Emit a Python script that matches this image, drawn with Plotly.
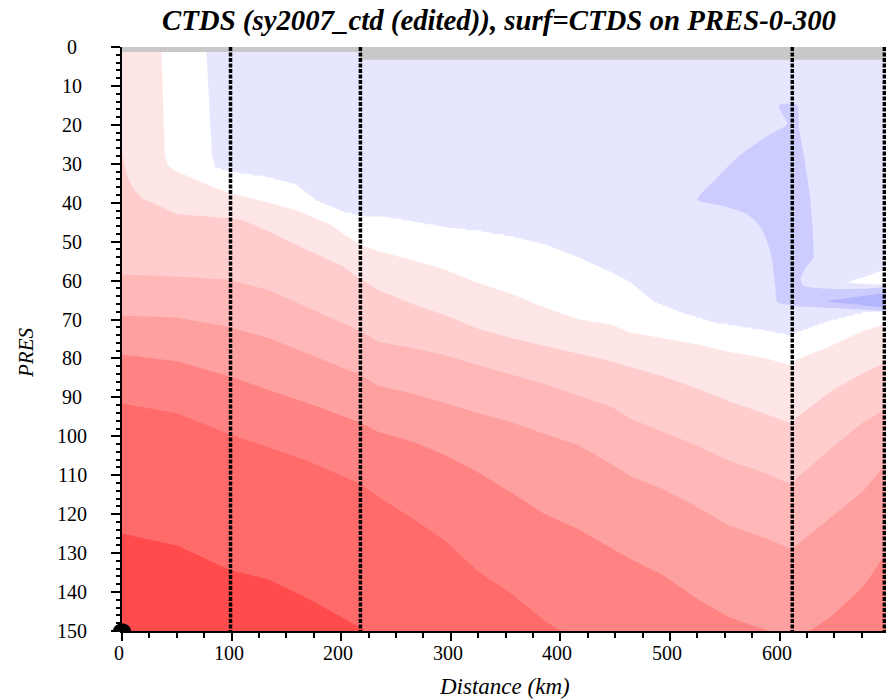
import numpy as np
import plotly.graph_objects as go

# ---------------- data ----------------
title_text = "CTDS (sy2007_ctd (edited)), surf=CTDS on PRES-0-300"
x_label = "Distance (km)"
y_label = "PRES"

x_range = [0, 697]
p_range = [150, 0]
x_ticks = [0, 100, 200, 300, 400, 500, 600]
p_ticks = [0, 10, 20, 30, 40, 50, 60, 70, 80, 90, 100, 110, 120, 130, 140, 150]

# station (cast) positions along the section, km
stations_km = [99, 217.5, 611.5, 695.5]

# top of valid data (above = no data, grey)
gap_x = [0, 217.5, 217.5, 697, 697, 0]
gap_p = [1.3, 1.3, 3.3, 3.3, 0, 0]

# band colours (value classes -2 .. 7)
band_values = [-2, -1, 0, 1, 2, 3, 4, 5, 6, 7]
band_colors = ["#e6e6ff", "#e6e6ff", "#ffffff", "#ffe6e6", "#ffcdcd",
               "#ffb7b7", "#ffa0a0", "#ff8383", "#ff6a6a", "#ff4b4b"]

# isoline depths (PRES) between classes, read at section distances (km)
bw_x = [0, 76, 77, 78.5, 80, 82, 85, 98, 134, 159, 177, 201, 217, 244, 265, 295, 325,
        356, 386, 417, 447, 464, 485, 509, 540, 585, 611.5, 616, 646, 676, 697]
bw_p = [-8, -8, 1, 9, 18, 28, 31, 32.1, 33.6, 35.5, 39.5, 42.4, 43.4, 43.9, 44.9, 46.4, 47.3,
        48.8, 50.8, 54.2, 58.1, 60.6, 65.5, 68.2, 70.9, 72.9, 74.3, 73.4, 70.4, 68.4, 68]

wp1_x = [0, 35.5, 36.5, 37.5, 39, 42, 50, 74, 98, 134, 159, 189, 217, 234.5, 265, 295, 325,
         356, 386, 417, 447, 464, 494, 524, 554, 585, 611.5, 616, 646, 676, 697]
wp1_p = [-4, -4, 2, 15, 28, 30.6, 32.1, 35, 37.5, 40, 41.9, 45.4, 50.8, 52.5, 54.7, 57.2, 60.6,
         63.5, 67, 70, 71.4, 73.4, 74.8, 76.3, 78.3, 79.7, 81.8, 80.2, 76.8, 72.9, 71]

p12_x = [0, 2, 6, 12, 19, 50, 98, 110, 134, 170, 201, 217, 234.5, 265, 295, 325, 356, 386,
         417, 447, 464, 494, 524, 554, 585, 611.5, 616, 646, 676, 697]
p12_p = [27, 30, 34, 37, 39, 42.9, 43.9, 44.4, 47.3, 52.2, 56.2, 59.5, 62.5, 66, 68.9, 72.4,
         74.8, 76.8, 78.8, 80.7, 82.2, 84.6, 87.6, 91, 94, 96.8, 95, 88.6, 83.7, 81]

p23_x = [0, 50, 98, 134, 170, 217, 234.5, 265, 295, 325, 356, 386, 417, 447, 464, 494, 524,
         554, 585, 611.5, 616, 646, 676, 697]
p23_p = [58.5, 59, 59.8, 62.5, 67, 72.9, 75.8, 77.3, 79.2, 81.7, 84.2, 86.6, 89.6, 92.5, 95.5,
         98.9, 102.3, 106.3, 109.2, 112.5, 110.7, 103.3, 96.4, 93]

p34_x = [0, 50, 98, 134, 170, 217, 234.5, 265, 295, 325, 356, 386, 417, 447, 464, 494, 524,
         554, 585, 611.5, 616, 646, 676, 697]
p34_p = [69, 69.5, 71.9, 74.8, 78.8, 84.2, 87.1, 89, 91.5, 94, 96.4, 99.4, 102.3, 107.2, 110.2,
         113.6, 118, 122.9, 125.9, 129, 127.8, 121, 114.1, 107]

p45_x = [0, 50, 98, 134, 170, 217, 234.5, 265, 295, 325, 356, 386, 417, 447, 464, 494, 524,
         554, 585, 611.5, 627, 646, 676, 697]
p45_p = [79, 80.7, 84.6, 88.1, 91.5, 96.4, 98.9, 101.3, 104.8, 109.2, 114.6, 120, 123.9, 128.8,
         131.5, 135.7, 141.6, 146.5, 149.5, 153, 150, 146.5, 138.7, 130]

p56_x = [0, 50, 98, 134, 170, 217, 234.5, 265, 295, 325, 356, 386, 404, 450, 611, 697]
p56_p = [91.5, 94, 99.4, 102.8, 106.3, 112.1, 115.6, 121, 126.9, 134.7, 140.6, 147.5, 150.5,
         158, 170, 175]

p67_x = [0, 50, 98, 134, 170, 217, 226, 300, 697]
p67_p = [124.9, 127.9, 134.2, 136.7, 141.6, 149, 150.5, 165, 200]

# fresher (blue) tongue patches
blue2_x = [599, 616, 617.5, 622, 628, 630.5, 625, 619, 622, 646, 677, 697, 697, 677, 646, 616,
           598, 596, 592, 583, 570, 549, 525, 543, 564, 589, 607, 604, 599]
blue2_p = [14.9, 14.9, 20.8, 27.7, 39.5, 54.2, 56.2, 59.6, 61.3, 62.1, 62.1, 62, 67.5, 67.5, 67,
           66.5, 65.5, 61.1, 53.2, 46.4, 42.9, 40.9, 39.2, 33.6, 27.7, 22.8, 19.8, 17.9, 14.9]
blue3_x = [644, 675, 697, 697, 675, 644]
blue3_p = [65.2, 64.0, 63.5, 66.6, 66.3, 65.4]
white_x = [661, 680, 697, 697, 661]
white_p = [60.4, 58.8, 57.4, 60.7, 60.5]

color_blue2 = "#ccccff"
color_blue3 = "#b4b4ff"
color_gap = "#c8c8c8"

# ---------------- build the gridded field from the isolines ----------------
iso = [(bw_x, bw_p), (wp1_x, wp1_p), (p12_x, p12_p), (p23_x, p23_p), (p34_x, p34_p),
       (p45_x, p45_p), (p56_x, p56_p), (p67_x, p67_p)]
levels = [-1.5] + [k - 0.5 for k in range(0, 8)] + [7.5]

xs = np.arange(x_range[0], x_range[1] + 0.5, 1.0)
ps = np.arange(0, 150.25, 0.5)
Z = np.zeros((len(ps), len(xs)), dtype=np.float32)
for j, xv in enumerate(xs):
    d = [-30.0] + [float(np.interp(xv, bx, bp)) for bx, bp in iso] + [260.0]
    Z[:, j] = np.interp(ps, d, levels)

vmin, vmax = band_values[0], band_values[-1]
colorscale = [[(v - vmin) / (vmax - vmin), c] for v, c in zip(band_values, band_colors)]

fig = go.Figure()
fig.add_trace(go.Contour(
    x=xs, y=ps, z=Z,
    contours=dict(start=-1.5, end=6.5, size=1, coloring="fill", showlines=False),
    colorscale=colorscale, zmin=vmin, zmax=vmax, showscale=False,
    line=dict(width=0, smoothing=1.0), hoverinfo="skip"))

for px_, pp_, col, shp in [(blue2_x, blue2_p, color_blue2, "spline"),
                           (blue3_x, blue3_p, color_blue3, "spline"),
                           (white_x, white_p, "#ffffff", "spline"),
                           (gap_x, gap_p, color_gap, "linear")]:
    fig.add_trace(go.Scatter(x=px_, y=pp_, mode="lines", fill="toself", fillcolor=col,
                             line=dict(width=0, color=col, shape=shp,
                                       smoothing=0.6 if shp == "spline" else None),
                             hoverinfo="skip"))

sx, sy = [], []
for s in stations_km:
    sx += [s, s, None]
    sy += [-1.4, 150, None]
fig.add_trace(go.Scatter(x=sx, y=sy, mode="lines", cliponaxis=False,
                         line=dict(color="black", width=3.5, dash="4px,1.5px"), hoverinfo="skip"))

serif = "Liberation Serif"
tick_font = dict(family=serif, size=20, color="black")

# plot area in pixels: x 122..886, y 47..631
W_plot, H_plot = 764, 584
annotations = []
for t in x_ticks:
    annotations.append(dict(text=str(t), x=t, xref="x", y=(631 - 653) / H_plot, yref="paper",
                            xanchor="center", yanchor="middle", showarrow=False, xshift=-3,
                            font=tick_font))
for t in p_ticks:
    annotations.append(dict(text=str(t), x=(72 - 122) / W_plot, xref="paper", y=t, yref="y",
                            xanchor="center", yanchor="middle", showarrow=False,
                            font=tick_font))
annotations.append(dict(text=x_label, xref="paper", yref="paper", x=0.5, y=(631 - 686) / H_plot,
                        xanchor="center", yanchor="middle", showarrow=False,
                        font=dict(family=serif, size=23, style="italic", color="black")))
annotations.append(dict(text=y_label, xref="paper", yref="paper", x=(26 - 122) / W_plot,
                        y=(631 - 353) / H_plot, xanchor="center", yanchor="middle",
                        showarrow=False, textangle=-90,
                        font=dict(family=serif, size=21, style="italic", color="black")))

fig.update_layout(
    width=888, height=700,
    margin=dict(l=122, r=2, t=47, b=69),
    plot_bgcolor="white", paper_bgcolor="white", showlegend=False,
    title=dict(text=title_text, x=499 / 888, xanchor="center", y=1 - 20 / 700, yanchor="middle",
               font=dict(family=serif, size=28.8, weight="bold", style="italic", color="black")),
    xaxis=dict(range=x_range, tickvals=x_ticks, ticks="outside", ticklen=8, tickwidth=2,
               tickcolor="black", showline=True, linewidth=2, linecolor="black",
               showgrid=False, zeroline=False, showticklabels=False,
               minor=dict(dtick=25, tick0=0, ticklen=5, tickwidth=1.5, tickcolor="black",
                          ticks="outside")),
    yaxis=dict(range=p_range, tickvals=p_ticks, ticks="outside", ticklen=9, tickwidth=2,
               tickcolor="black", showline=True, linewidth=2, linecolor="black",
               showgrid=False, zeroline=False, showticklabels=False,
               minor=dict(dtick=2, tick0=0, ticklen=4.5, tickwidth=1.5, tickcolor="black",
                          ticks="outside")),
    annotations=annotations,
    shapes=[dict(type="path", xref="paper", yref="paper", xsizemode="pixel", ysizemode="pixel",
                 xanchor=0, yanchor=0, path="M -9 0 C -9 10, 9 10, 9 0 Z",
                 fillcolor="black", line=dict(width=0), layer="above")],
)

fig.write_html("out.html")
